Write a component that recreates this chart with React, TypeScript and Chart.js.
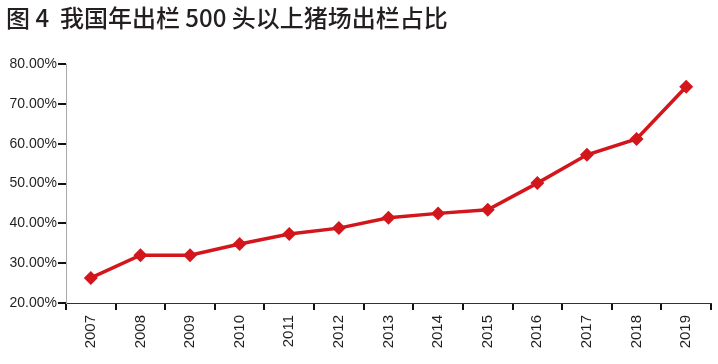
import React, { useEffect, useRef } from "react";
import { Chart, registerables } from "chart.js";

Chart.register(...registerables);

const titleText = "图 4  我国年出栏 500 头以上猪场出栏占比";
const years = ["2007", "2008", "2009", "2010", "2011", "2012", "2013", "2014", "2015", "2016", "2017", "2018", "2019"];
const shares = [26.3, 32.0, 32.0, 34.8, 37.3, 38.8, 41.4, 42.5, 43.4, 50.1, 57.2, 61.2, 74.3];
const yMin = 20;
const yMax = 80;
const yStep = 10;

const RED = "#d2161c";
const FONT = "'Liberation Sans', Arial, sans-serif";

export default function App() {
  const ref = useRef<HTMLCanvasElement | null>(null);

  useEffect(() => {
    if (!ref.current) return;
    const chart = new Chart(ref.current, {
      type: "line",
      data: {
        labels: years,
        datasets: [
          {
            data: shares,
            borderColor: RED,
            backgroundColor: RED,
            borderWidth: 3.5,
            pointStyle: "rectRot",
            pointRadius: 7,
            pointBorderWidth: 0,
            pointBackgroundColor: RED,
            tension: 0,
          },
        ],
      },
      options: {
        responsive: false,
        animation: false,
        layout: { padding: { left: 6, right: 5, top: 0, bottom: 0 } },
        plugins: {
          legend: { display: false },
          tooltip: { enabled: false },
          title: {
            display: true,
            text: titleText,
            align: "start",
            color: "#231f20",
            font: { family: "'Noto Sans CJK SC', sans-serif", size: 24, weight: "500" as any, lineHeight: 1.2 },
            padding: { top: 3, bottom: 32.2 },
          },
        },
        scales: {
          x: {
            offset: true,
            grid: {
              offset: true,
              drawOnChartArea: false,
              drawTicks: true,
              tickLength: 7,
              color: "#111",
              lineWidth: 2,
            },
            border: { display: true, color: "#333", width: 1 },
            ticks: {
              color: "#231f20",
              font: { family: FONT, size: 15 },
              minRotation: 90,
              maxRotation: 90,
              padding: 5,
              autoSkip: false,
            },
            afterFit: (s: any) => {
              s.height = 61;
            },
          },
          y: {
            min: yMin,
            max: yMax,
            grid: {
              drawOnChartArea: false,
              drawTicks: true,
              tickLength: 8,
              color: "#111",
              lineWidth: 2,
            },
            border: { display: true, color: "#aaa", width: 1 },
            ticks: {
              stepSize: yStep,
              color: "#231f20",
              font: { family: FONT, size: 14 },
              padding: 1,
              callback: (v: any) => Number(v).toFixed(2) + "%",
            },
            afterFit: (s: any) => {
              s.width = 60;
            },
          },
        },
      },
    });
    return () => chart.destroy();
  }, []);

  return (
    <div style={{ position: "fixed", left: 0, top: 0, width: 718, height: 364, background: "#fff" }}>
      <canvas ref={ref} width={718} height={364} style={{ display: "block", width: 718, height: 364 }} />
    </div>
  );
}
